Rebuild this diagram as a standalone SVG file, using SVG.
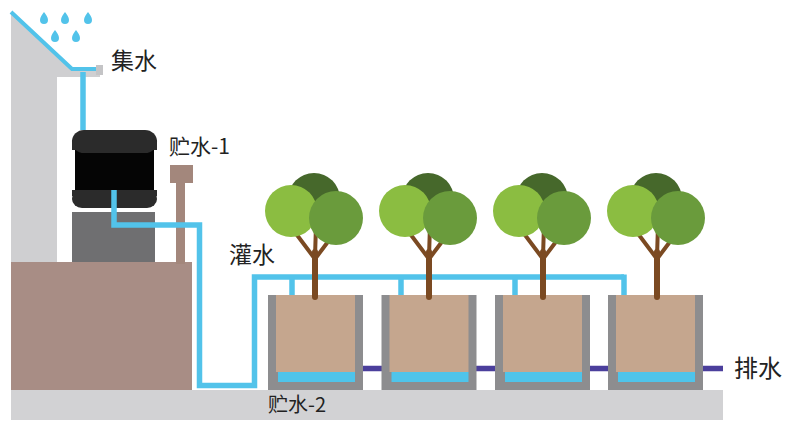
<svg xmlns="http://www.w3.org/2000/svg" width="795" height="425" viewBox="0 0 795 425">
  <style>
    .label { font-family: "Noto Sans CJK SC", "Noto Sans", sans-serif; fill: #222; }
    .pipe { fill: none; stroke: #52c3ea; stroke-width: 5.5; stroke-linejoin: miter; }
    .drain { fill: none; stroke: #4b3f9c; stroke-width: 5.5; }
    .wall { fill: #8d8d8f; }
    .soil { fill: #c5a68e; }
    .water { fill: #4fc4ea; }
    .trunk { fill: none; stroke: #7b4a22; stroke-linecap: round; }
    .drop { fill: #52c3ea; }
  </style>
  <defs>
    <!-- planter box, local origin at its top-left corner -->
    <g id="pot">
      <rect class="wall" x="0" y="0" width="95" height="95"/>
      <rect class="soil" x="8" y="0" width="79" height="77"/>
      <rect class="water" x="10" y="77" width="77" height="10"/>
    </g>
    <!-- tree, local origin at the base of the trunk -->
    <g id="tree">
      <path class="trunk" d="M0,0 L0,-45" stroke-width="6"/>
      <path class="trunk" d="M0,-38 L-21,-66 M0,-38 L15,-58 M0,-40 L1,-72" stroke-width="4"/>
      <circle cx="-1" cy="-98" r="26" fill="#46682b"/>
      <circle cx="-24" cy="-86" r="26" fill="#8bbd41"/>
      <circle cx="21" cy="-79" r="27" fill="#6a9b3c"/>
    </g>
  </defs>

  <!-- building and roof -->
  <g id="building">
    <polygon points="11,12 72,69 100,69 100,77 57,77 57,262 11,262" fill="#cfcfd1"/>
    <polyline points="11,12 72,69 97,69" fill="none" stroke="#52c3ea" stroke-width="4"/>
    <rect x="96" y="65" width="7" height="10" fill="#c4c4c6"/>
  </g>

  <!-- raindrops -->
  <g id="rain">
    <path class="drop" d="M44,12 C46,15 48,17 48,20 A4,4 0 0 1 40,20 C40,17 42,15 44,12 Z"/>
    <path class="drop" d="M65,12 C67,15 69,17 69,20 A4,4 0 0 1 61,20 C61,17 63,15 65,12 Z"/>
    <path class="drop" d="M88,12 C90,15 92,17 92,20 A4,4 0 0 1 84,20 C84,17 86,15 88,12 Z"/>
    <path class="drop" d="M55,30 C57,33 59,35 59,38 A4,4 0 0 1 51,38 C51,35 53,33 55,30 Z"/>
    <path class="drop" d="M76,30 C78,33 80,35 80,38 A4,4 0 0 1 72,38 C72,35 74,33 76,30 Z"/>
  </g>

  <!-- base, vent, stand -->
  <g id="base">
    <rect x="11" y="262" width="181" height="128" fill="#a88d85"/>
  </g>
  <g id="vent">
    <rect x="176" y="180" width="9" height="84" fill="#a3877c"/>
    <rect x="170" y="165" width="23" height="18" fill="#a3877c"/>
  </g>
  <g id="stand">
    <rect x="72" y="212" width="83" height="50" fill="#6f6f71"/>
  </g>

  <!-- storage tank 1 -->
  <g id="tank">
    <rect x="75" y="150" width="79" height="42" fill="#050505"/>
    <rect x="72" y="130" width="85" height="23" rx="12" fill="#2b2b2b"/>
    <rect x="72" y="190" width="85" height="18" rx="10" fill="#2b2b2b"/>
    <rect x="72" y="140" width="85" height="10" fill="#2b2b2b"/>
    <rect x="72" y="190" width="85" height="6" fill="#2b2b2b"/>
  </g>

  <!-- ground -->
  <g id="ground">
    <rect x="11" y="390" width="712" height="30" fill="#d2d2d4"/>
  </g>

  <!-- pipes -->
  <g id="connectors">
    <polyline class="pipe" points="83,72 83,130"/>
    <polyline class="pipe" points="114,190 114,225 199.5,225 199.5,385.5 254.5,385.5 254.5,277 624,277"/>
    <polyline class="pipe" points="292,277 292,296"/>
    <polyline class="pipe" points="401,277 401,296"/>
    <polyline class="pipe" points="515,277 515,296"/>
    <polyline class="pipe" points="624,274.5 624,296"/>
    <line class="drain" x1="363" y1="368.5" x2="723" y2="368.5"/>
  </g>

  <!-- planters -->
  <g id="pot-1"><use href="#pot" x="268" y="295"/></g>
  <g id="pot-2"><use href="#pot" x="381.5" y="295"/></g>
  <g id="pot-3"><use href="#pot" x="495" y="295"/></g>
  <g id="pot-4"><use href="#pot" x="608" y="295"/></g>

  <!-- trees -->
  <g id="tree-1"><use href="#tree" x="315" y="297"/></g>
  <g id="tree-2"><use href="#tree" x="429" y="297"/></g>
  <g id="tree-3"><use href="#tree" x="543" y="297"/></g>
  <g id="tree-4"><use href="#tree" x="657" y="297"/></g>

  <!-- labels -->
  <g id="labels">
    <text class="label" x="111" y="69" font-size="23">集水</text>
    <text class="label" x="169" y="154" font-size="21">贮水-1</text>
    <text class="label" x="229" y="263" font-size="23">灌水</text>
    <text class="label" x="268" y="412" font-size="20">贮水-2</text>
    <text class="label" x="734" y="377" font-size="24">排水</text>
  </g>
</svg>
